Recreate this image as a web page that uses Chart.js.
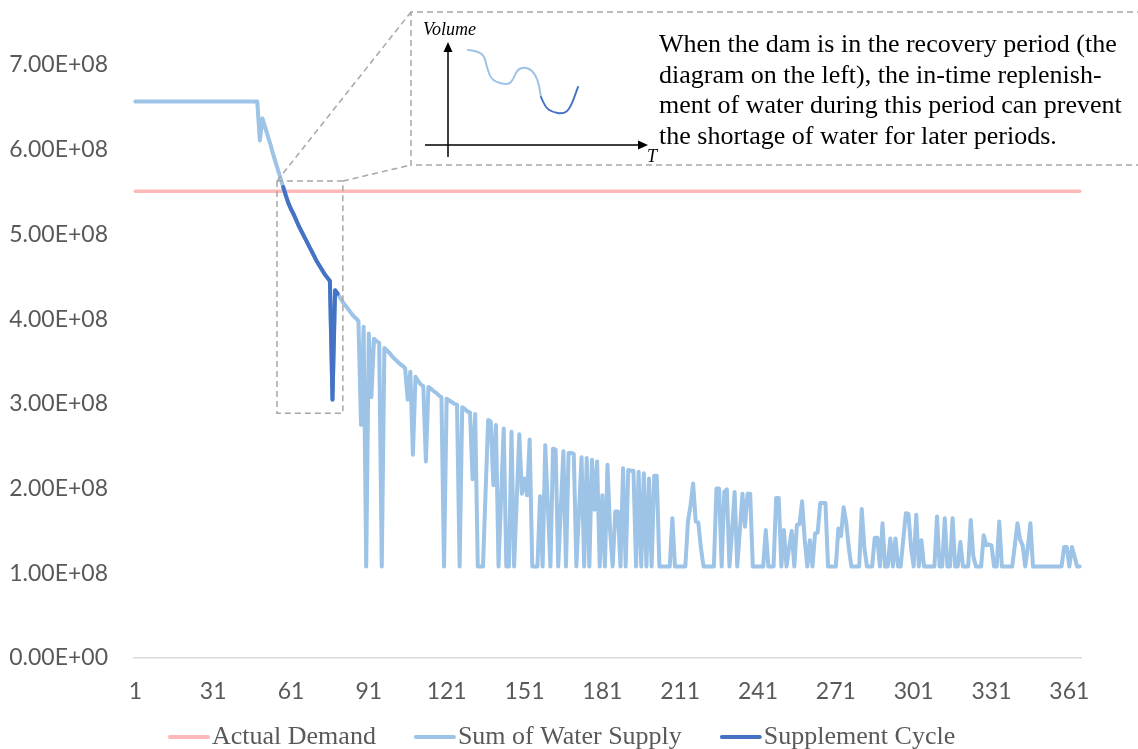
<!DOCTYPE html>
<html>
<head>
<meta charset="utf-8">
<script src="https://cdn.jsdelivr.net/npm/chart.js@4.4.0/dist/chart.umd.min.js"></script>
<style>
    html, body { margin: 0; padding: 0; background: #fff; }
</style>
</head>
<body>
<canvas id="waterChart" width="1138" height="749"></canvas>
<script>
// days of the year (x categories)
const days = [];
for (let d = 1; d <= 365; d++) days.push(d);
const xTickEvery = 30;

// y ticks, in units of 1E+08
const yTicks = [0, 1, 2, 3, 4, 5, 6, 7];

const seriesNames = ['Actual Demand', 'Sum of Water Supply', 'Supplement Cycle'];

// constant demand level (1E+08)
const demandLevel = 5.51;

// sum of water supply per day (1E+08)
const waterSupply = [
    6.57, 6.57, 6.57, 6.57, 6.57, 6.57, 6.57, 6.57, 6.57, 6.57,
    6.57, 6.57, 6.57, 6.57, 6.57, 6.57, 6.57, 6.57, 6.57, 6.57,
    6.57, 6.57, 6.57, 6.57, 6.57, 6.57, 6.57, 6.57, 6.57, 6.57,
    6.57, 6.57, 6.57, 6.57, 6.57, 6.57, 6.57, 6.57, 6.57, 6.57,
    6.57, 6.57, 6.57, 6.57, 6.57, 6.57, 6.57, 6.57, 6.11, 6.37,
    6.27, 6.17, 6.07, 5.96, 5.86, 5.76, 5.66, 5.56, 5.46, 5.37,
    5.30, 5.24, 5.17, 5.10, 5.04, 4.98, 4.92, 4.86, 4.80, 4.74,
    4.68, 4.63, 4.58, 4.53, 4.49, 4.45, 3.05, 4.34, 4.30, 4.25,
    4.20, 4.16, 4.12, 4.08, 4.04, 4.01, 3.98, 2.75, 3.91, 1.08,
    3.83, 3.08, 3.77, 3.74, 3.72, 1.08, 3.66, 3.63, 3.60, 3.56,
    3.53, 3.50, 3.47, 3.45, 3.42, 3.05, 3.38, 2.40, 3.32, 3.27,
    3.23, 3.21, 2.32, 3.20, 3.18, 3.15, 3.13, 3.10, 3.08, 1.08,
    3.06, 3.04, 3.02, 3.00, 2.99, 1.08, 2.96, 2.94, 2.91, 2.90,
    2.11, 2.88, 1.08, 1.08, 1.08, 1.95, 2.81, 2.79, 2.04, 2.75,
    1.08, 1.90, 2.71, 1.08, 1.08, 2.67, 1.08, 1.85, 2.64, 1.94,
    2.12, 1.92, 2.58, 1.08, 1.08, 1.08, 1.91, 1.08, 2.51, 1.80,
    1.08, 2.47, 2.46, 1.08, 1.76, 2.44, 1.08, 2.42, 2.42, 2.41,
    1.08, 1.72, 2.37, 1.08, 2.36, 1.08, 2.34, 1.75, 2.32, 1.08,
    1.92, 1.08, 2.28, 1.50, 1.08, 1.73, 1.73, 1.08, 2.24, 1.08,
    2.22, 2.21, 2.21, 1.08, 2.20, 1.08, 2.18, 1.08, 2.12, 1.08,
    2.15, 2.15, 1.08, 1.08, 1.08, 1.08, 1.08, 1.65, 1.08, 1.08,
    1.08, 1.08, 1.08, 1.61, 1.80, 2.06, 1.61, 1.60, 1.30, 1.08,
    1.08, 1.08, 1.08, 1.08, 2.00, 2.00, 1.08, 1.96, 1.99, 1.08,
    1.50, 1.96, 1.08, 1.50, 1.94, 1.55, 1.94, 1.94, 1.08, 1.08,
    1.08, 1.08, 1.08, 1.51, 1.08, 1.08, 1.08, 1.89, 1.89, 1.08,
    1.51, 1.08, 1.30, 1.50, 1.08, 1.57, 1.58, 1.85, 1.40, 1.08,
    1.39, 1.08, 1.47, 1.48, 1.83, 1.83, 1.83, 1.08, 1.08, 1.08,
    1.08, 1.53, 1.44, 1.78, 1.60, 1.30, 1.08, 1.08, 1.08, 1.08,
    1.76, 1.30, 1.08, 1.08, 1.08, 1.42, 1.42, 1.08, 1.59, 1.08,
    1.08, 1.41, 1.08, 1.41, 1.08, 1.08, 1.40, 1.71, 1.70, 1.30,
    1.08, 1.69, 1.08, 1.39, 1.08, 1.08, 1.08, 1.08, 1.08, 1.67,
    1.08, 1.08, 1.65, 1.08, 1.08, 1.65, 1.08, 1.08, 1.37, 1.08,
    1.08, 1.08, 1.63, 1.20, 1.08, 1.08, 1.08, 1.45, 1.33, 1.34,
    1.33, 1.08, 1.08, 1.61, 1.08, 1.08, 1.08, 1.08, 1.08, 1.33,
    1.59, 1.40, 1.33, 1.08, 1.30, 1.59, 1.08, 1.08, 1.08, 1.08,
    1.08, 1.08, 1.08, 1.08, 1.08, 1.08, 1.08, 1.08, 1.31, 1.31,
    1.08, 1.31, 1.20, 1.08, 1.08
];

// days highlighted as the supplement cycle
const supplementFrom = 58;
const supplementTo = 79;

// dashed window around the supplement cycle (days / 1E+08)
const zoomWindow = { from: 55.6, to: 81, low: 2.89, high: 5.63 };

const noteLines = [
    'When the dam is in the recovery period (the',
    'diagram on the left), the in-time replenish-',
    'ment of water during this period can prevent',
    'the shortage of water for later periods.'
];

const colors = ['#FFB7B7', '#9DC3E6', '#4472C4'];

const demand = days.map(() => demandLevel);
const supplement = waterSupply.map((v, i) => (days[i] >= supplementFrom && days[i] <= supplementTo) ? v : null);

// chart area: top 45 (layout padding), bottom 658; 7E+08 should sit at y=65
const areaTop = 45;
const yMax = 7 * (658 - areaTop) / (658 - 65);

function smoothPath(c, pts) {
    c.moveTo(pts[0][0], pts[0][1]);
    for (let i = 1; i < pts.length - 1; i++) {
        const mx = (pts[i][0] + pts[i + 1][0]) / 2;
        const my = (pts[i][1] + pts[i + 1][1]) / 2;
        c.quadraticCurveTo(pts[i][0], pts[i][1], mx, my);
    }
    const last = pts[pts.length - 1];
    c.lineTo(last[0], last[1]);
}

// the dashed zoom window + explanation box
const insetPlugin = {
    id: 'inset',
    afterDraw(chart) {
        const c = chart.ctx;
        const xs = chart.scales.x, ys = chart.scales.y;
        const zl = xs.getPixelForValue(zoomWindow.from - 1);
        const zr = xs.getPixelForValue(zoomWindow.to - 1);
        const zt = ys.getPixelForValue(zoomWindow.high);
        const zb = ys.getPixelForValue(zoomWindow.low);
        const box = { left: 411, top: 12, bottom: 165 };

        c.save();
        c.setLineDash([6, 4]);
        c.strokeStyle = '#A6A6A6';
        c.lineWidth = 1.5;
        c.strokeRect(zl, zt, zr - zl, zb - zt);
        c.beginPath();
        c.moveTo(zl, zt); c.lineTo(box.left, box.top);
        c.moveTo(zr, zt); c.lineTo(box.left, box.bottom);
        c.stroke();
        c.beginPath();
        c.moveTo(chart.width + 5, box.top);
        c.lineTo(box.left, box.top);
        c.lineTo(box.left, box.bottom);
        c.lineTo(chart.width + 5, box.bottom);
        c.stroke();
        c.setLineDash([]);

        // small axes
        c.strokeStyle = '#000';
        c.fillStyle = '#000';
        c.lineWidth = 1.5;
        c.beginPath();
        c.moveTo(448, 157); c.lineTo(448, 50);
        c.moveTo(425, 145); c.lineTo(640, 145);
        c.stroke();
        c.beginPath();
        c.moveTo(448, 42); c.lineTo(443.5, 52); c.lineTo(452.5, 52); c.closePath();
        c.moveTo(648, 145); c.lineTo(638, 140.5); c.lineTo(638, 149.5); c.closePath();
        c.fill();

        c.font = 'italic 18px "Liberation Serif"';
        c.textBaseline = 'middle';
        c.fillText('Volume', 423, 30);
        c.fillText('T', 647, 157);

        // sketch of the volume curve
        c.lineWidth = 2;
        c.lineCap = 'round';
        c.lineJoin = 'round';
        c.strokeStyle = colors[1];
        c.beginPath();
        smoothPath(c, [[468, 50], [483, 51], [487, 68], [492, 81], [508, 85], [513, 80], [517, 70], [524, 67], [532, 70], [538, 80], [541, 97]]);
        c.stroke();
        c.strokeStyle = colors[2];
        c.beginPath();
        smoothPath(c, [[541, 97], [545, 107], [552, 112], [563, 114], [570, 109], [578, 87]]);
        c.stroke();

        // note text
        c.fillStyle = '#000';
        c.font = '26px "Liberation Serif"';
        noteLines.forEach((t, i) => c.fillText(t, 659, 45.5 + i * 30.5));
        c.restore();
    }
};

// legend drawn under the axis, Excel style (line sample + label)
const legendPlugin = {
    id: 'bottomLegend',
    afterDraw(chart) {
        const c = chart.ctx;
        c.save();
        c.font = '26px "Liberation Serif"';
        const sample = 42, gap = 2, spacing = 38, y = 737;
        let x = 168;
        chart.data.datasets.forEach(ds => {
            const w = c.measureText(ds.label).width;
            c.strokeStyle = ds.borderColor;
            c.lineWidth = 4;
            c.lineCap = 'round';
            c.beginPath();
            c.moveTo(x + 2, y);
            c.lineTo(x + sample - 2, y);
            c.stroke();
            c.fillStyle = '#595959';
            c.textBaseline = 'middle';
            c.fillText(ds.label, x + sample + gap, y);
            x += sample + gap + w + spacing;
        });
        c.restore();
    }
};

const tickFont = { family: 'Lato', size: 23 };

new Chart(document.getElementById('waterChart'), {
    type: 'line',
    data: {
        labels: days,
        datasets: [
            { label: seriesNames[0], data: demand, borderColor: colors[0], borderWidth: 3.5, order: 3 },
            { label: seriesNames[1], data: waterSupply, borderColor: colors[1], borderWidth: 4, order: 2 },
            { label: seriesNames[2], data: supplement, borderColor: colors[2], borderWidth: 4, order: 1 }
        ]
    },
    options: {
        responsive: false,
        animation: false,
        devicePixelRatio: 1,
        layout: { padding: { top: areaTop, right: 57, left: 0, bottom: 0 } },
        elements: {
            point: { radius: 0 },
            line: { tension: 0, borderJoinStyle: 'round', borderCapStyle: 'round' }
        },
        plugins: {
            legend: { display: false },
            tooltip: { enabled: false }
        },
        scales: {
            x: {
                type: 'category',
                offset: true,
                grid: { display: false },
                border: { display: true, color: '#D9D9D9', width: 1.5 },
                ticks: {
                    autoSkip: false,
                    maxRotation: 0,
                    minRotation: 0,
                    padding: 12,
                    color: '#595959',
                    font: tickFont,
                    callback: (v, i) => i % xTickEvery === 0 ? days[i] : ''
                },
                afterFit: s => { s.height = 91; }
            },
            y: {
                min: 0,
                max: yMax,
                grid: { display: false },
                border: { display: false },
                afterBuildTicks: s => { s.ticks = yTicks.map(v => ({ value: v })); },
                ticks: {
                    padding: 18,
                    color: '#595959',
                    font: tickFont,
                    callback: v => v === 0 ? '0.00E+00' : v.toFixed(2) + 'E+08'
                },
                afterFit: s => { s.width = 134; }
            }
        }
    },
    plugins: [insetPlugin, legendPlugin]
});
</script>
</body>
</html>
